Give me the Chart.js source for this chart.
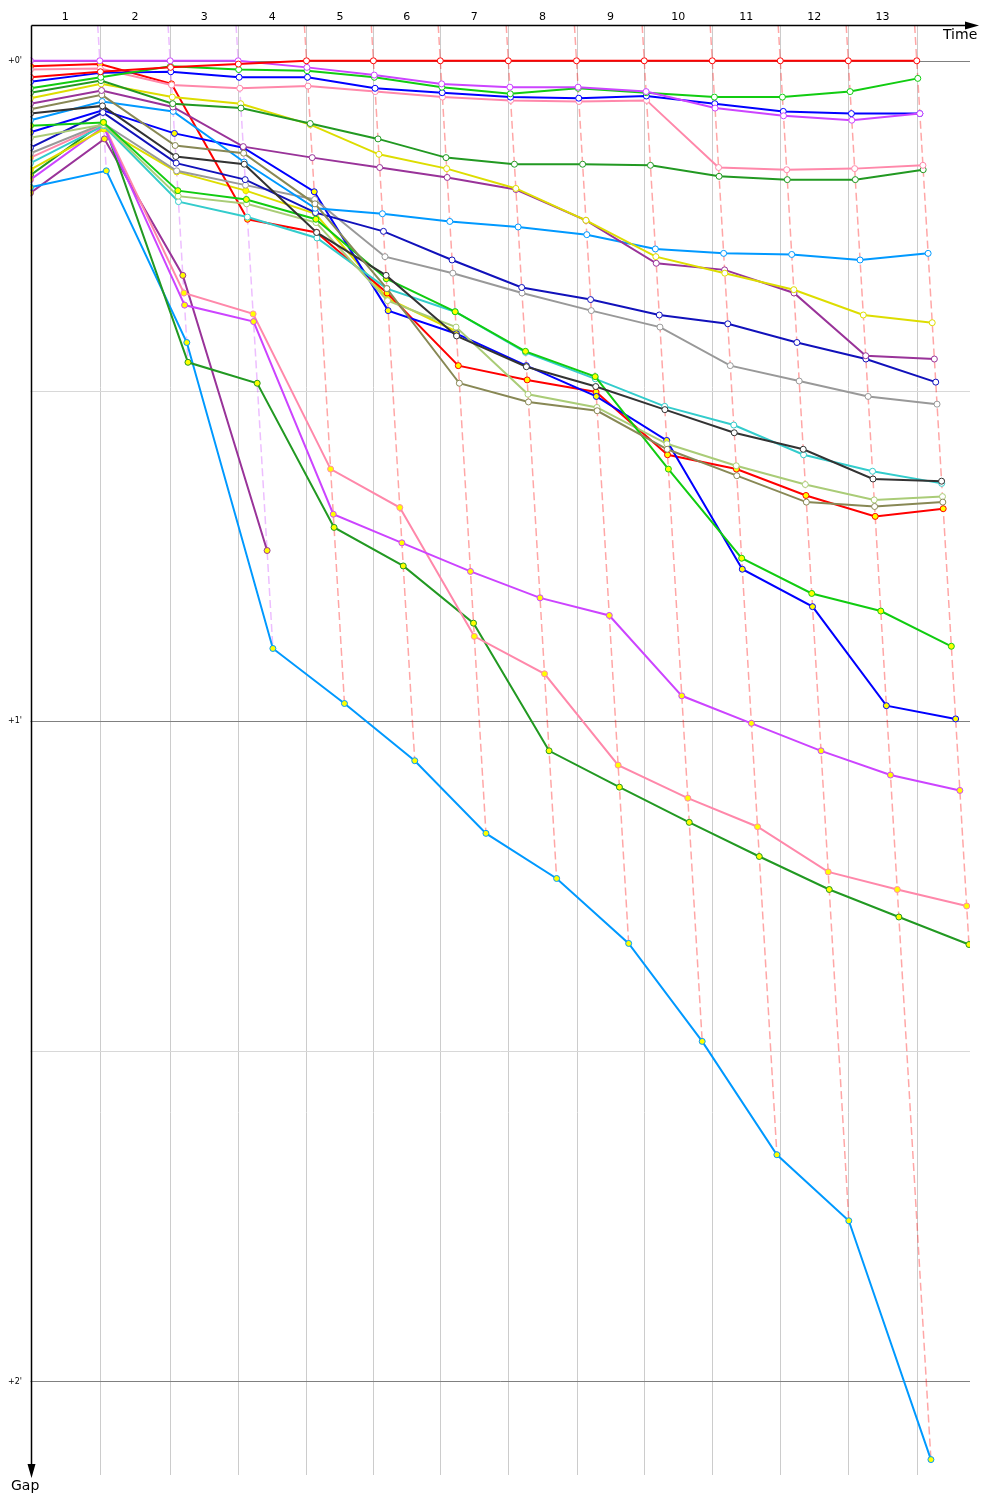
<!DOCTYPE html>
<html>
<head>
<meta charset="utf-8">
<script src="https://cdn.jsdelivr.net/npm/chart.js@4.4.1/dist/chart.umd.min.js"></script>
<style>
  html, body { margin: 0; padding: 0; background: #fff; }
  canvas { display: block; }
</style>
</head>
<body>
<canvas id="gapChart" width="1000" height="1500"></canvas>
<script>
// leader lap times (s)
const lapTimes = [106.6, 108.2, 104.6, 105.1, 102.9, 102.9, 104.6, 104.9, 104.2, 104.6, 104.6, 104.6, 105.3];
const lapLabels = ['1', '2', '3', '4', '5', '6', '7', '8', '9', '10', '11', '12', '13'];
const gapGrid = [0, 30, 60, 90, 120];
const gapTickLabels = { 0: "+0'", 60: "+1'", 120: "+2'" };

// gap to leader (s) at start and after each lap
const red1Gaps       = [1.5, 1.0, 0.6, 0.3, 0, 0, 0, 0, 0, 0, 0, 0, 0, 0];
const magentaGaps    = [0, 0, 0, 0, 0.6, 1.3, 2.1, 2.4, 2.4, 2.8, 4.3, 5.0, 5.4, 4.8];
const greenGaps      = [2.5, 1.5, 0.5, 0.8, 0.9, 1.5, 2.4, 3.0, 2.5, 2.9, 3.3, 3.3, 2.8, 1.6];
const blueGaps       = [1.9, 1.1, 1.0, 1.5, 1.5, 2.5, 2.9, 3.3, 3.4, 3.2, 3.9, 4.6, 4.8, 4.8];
const pinkGaps       = [0.8, 0.7, 2.2, 2.5, 2.3, 2.8, 3.3, 3.6, 3.7, 3.6, 9.7, 9.9, 9.8, 9.5];
const darkGreenGaps  = [2.9, 1.8, 3.9, 4.3, 5.7, 7.1, 8.8, 9.4, 9.4, 9.5, 10.5, 10.8, 10.8, 9.9];
const yellowGaps     = [3.4, 2.1, 3.3, 3.9, 5.8, 8.5, 9.8, 11.6, 14.5, 17.8, 19.3, 20.8, 23.1, 23.8];
const purpleGaps     = [3.9, 2.7, 4.2, 7.8, 8.8, 9.7, 10.6, 11.7, 14.5, 18.4, 19.0, 21.1, 26.8, 27.1];
const oliveGaps      = [4.4, 3.1, 7.7, 8.4, 13.0, 20.7, 29.3, 31.0, 31.8, 35.3, 37.7, 40.1, 40.5, 40.1];
const blackGaps      = [4.8, 4.1, 8.7, 9.4, 15.6, 19.5, 25.0, 27.8, 29.6, 31.7, 33.8, 35.3, 38.0, 38.2];
const lightBlueGaps  = [5.4, 3.7, 4.6, 9.2, 13.4, 13.9, 14.6, 15.1, 15.8, 17.1, 17.5, 17.6, 18.1, 17.5];
const green2Gaps     = [5.9, 5.6, 11.8, 12.6, 14.4, 19.8, 22.8, 26.4, 28.7, 37.1, 45.2, 48.4, 50.0, 53.2];
const lightOliveGaps = [7.0, 5.8, 12.3, 13.0, 14.7, 21.8, 24.2, 30.3, 31.5, 34.8, 36.8, 38.5, 39.9, 39.6];
const darkBlueGaps   = [7.9, 4.7, 9.3, 10.8, 13.8, 15.5, 18.1, 20.6, 21.7, 23.1, 23.9, 25.6, 27.1, 29.2];
const grayGaps       = [8.4, 5.7, 10.0, 11.3, 12.6, 17.8, 19.3, 21.1, 22.7, 24.2, 27.7, 29.1, 30.5, 31.2];
const turquoiseGaps  = [9.3, 5.9, 12.8, 14.2, 16.1, 20.7, 22.8, 26.5, 28.9, 31.4, 33.1, 35.8, 37.3, 38.4];
const blue2Gaps      = [6.5, 4.5, 6.6, 7.9, 11.9, 22.7, 24.8, 27.7, 30.5, 34.5, 46.2, 49.6, 58.6, 59.8];
const red2Gaps       = [0.5, 0.3, 2.1, 14.4, 15.6, 21.1, 27.7, 29.0, 30.1, 35.8, 37.1, 39.5, 41.4, 40.7];
const yellow2Gaps    = [9.9, 6.2, 10.1, 11.8, 13.9, 21.6, 24.6, null, null, null, null, null, null, null];
const violet2Gaps    = [10.8, 6.0, 22.2, 23.7, 41.2, 43.8, 46.4, 48.8, 50.4, 57.7, 60.2, 62.7, 64.9, 66.3];
const pink2Gaps      = [8.8, 5.8, 21.1, 23.0, 37.1, 40.6, 52.3, 55.7, 64.0, 67.0, 69.6, 73.7, 75.3, 76.8];
const darkGreen2Gaps = [10.4, 5.6, 27.4, 29.3, 42.4, 45.9, 51.1, 62.7, 66.0, 69.2, 72.3, 75.3, 77.8, 80.3];
const lightBlue2Gaps = [11.5, 10.0, 25.6, 53.4, 58.4, 63.6, 70.2, 74.3, 80.2, 89.1, 99.4, 105.4, 127.1, null];
const purple2Gaps    = [12.0, 7.1, 19.5, 44.5, null, null, null, null, null, null, null, null, null, null];

const drivers = [
  { gaps: red1Gaps, color: '#ff0000', fill: '#ffffff' },
  { gaps: magentaGaps, color: '#cc44ff', fill: '#ffffff' },
  { gaps: greenGaps, color: '#11cc11', fill: '#ffffff' },
  { gaps: blueGaps, color: '#0000ff', fill: '#ffffff' },
  { gaps: pinkGaps, color: '#ff88aa', fill: '#ffffff' },
  { gaps: darkGreenGaps, color: '#229922', fill: '#ffffff' },
  { gaps: yellowGaps, color: '#dddd00', fill: '#ffffff' },
  { gaps: purpleGaps, color: '#993399', fill: '#ffffff' },
  { gaps: oliveGaps, color: '#888855', fill: '#ffffff' },
  { gaps: blackGaps, color: '#333333', fill: '#ffffff' },
  { gaps: lightBlueGaps, color: '#0099ff', fill: '#ffffff' },
  { gaps: green2Gaps, color: '#11cc11', fill: '#ffff00' },
  { gaps: lightOliveGaps, color: '#aacc77', fill: '#ffffff' },
  { gaps: darkBlueGaps, color: '#1111bb', fill: '#ffffff' },
  { gaps: grayGaps, color: '#999999', fill: '#ffffff' },
  { gaps: turquoiseGaps, color: '#33cccc', fill: '#ffffff' },
  { gaps: blue2Gaps, color: '#0000ff', fill: '#ffff00' },
  { gaps: red2Gaps, color: '#ff0000', fill: '#ffff00' },
  { gaps: yellow2Gaps, color: '#dddd00', fill: '#ffff00' },
  { gaps: violet2Gaps, color: '#cc44ff', fill: '#ffff00' },
  { gaps: pink2Gaps, color: '#ff88aa', fill: '#ffff00' },
  { gaps: darkGreen2Gaps, color: '#229922', fill: '#ffff00' },
  { gaps: lightBlue2Gaps, color: '#0099ff', fill: '#ffff00' },
  { gaps: purple2Gaps, color: '#993399', fill: '#ffff00' }
];

const X_MAX = 1445;
const GAP_MIN = -3.25;
const GAP_MAX = 128.5;

// cumulative leader time at each lap end
const lapEnds = [0];
lapTimes.forEach(t => lapEnds.push(lapEnds[lapEnds.length - 1] + t));

function hexAlpha(hex, a) {
  const n = parseInt(hex.slice(1), 16);
  return `rgba(${n >> 16}, ${(n >> 8) & 255}, ${n & 255}, ${a})`;
}

const datasets = drivers.map(d => ({
  data: d.gaps.map((g, lap) => g === null ? null : { x: lap === 0 ? 0 : lapEnds[lap] + g, y: g })
    .filter(p => p !== null),
  borderColor: d.color,
  backgroundColor: d.fill,
  pointBackgroundColor: d.fill,
  pointBorderColor: d.color,
  pointRadius: 3,
  pointBorderWidth: 1,
  borderWidth: 2,
  showLine: true,
  tension: 0
}));

// dashed lap lines, coloured after the lap leader
for (let lap = 1; lap < lapEnds.length; lap++) {
  let leader = drivers[0], maxGap = 0, minGap = Infinity;
  drivers.forEach(d => {
    const g = d.gaps[lap];
    if (g === null || g === undefined) return;
    if (g < minGap) { minGap = g; leader = d; }
    if (g > maxGap) maxGap = g;
  });
  datasets.push({
    data: [{ x: lapEnds[lap] + GAP_MIN, y: GAP_MIN }, { x: lapEnds[lap] + maxGap, y: maxGap }],
    borderColor: hexAlpha(leader.color, 0.35),
    borderWidth: 1.5,
    borderDash: [8, 4],
    pointRadius: 0,
    showLine: true
  });
}

const racePlugin = {
  id: 'raceAxes',
  beforeDatasetsDraw(chart) {
    const { ctx, chartArea: a, scales: { x, y } } = chart;
    ctx.save();
    ctx.lineWidth = 1;
    lapEnds.slice(1).forEach(t => {
      const px = Math.round(x.getPixelForValue(t)) + 0.5;
      ctx.strokeStyle = '#cccccc';
      ctx.beginPath();
      ctx.moveTo(px, a.top);
      ctx.lineTo(px, a.bottom);
      ctx.stroke();
    });
    gapGrid.forEach(v => {
      const py = Math.round(y.getPixelForValue(v)) + 0.5;
      ctx.strokeStyle = gapTickLabels[v] ? '#808080' : '#d8d8d8';
      ctx.beginPath();
      ctx.moveTo(a.left, py);
      ctx.lineTo(a.right, py);
      ctx.stroke();
    });
    ctx.restore();
  },
  afterDatasetsDraw(chart) {
    const { ctx, chartArea: a, scales: { x, y } } = chart;
    ctx.save();
    ctx.strokeStyle = '#000';
    ctx.fillStyle = '#000';
    ctx.lineWidth = 1.5;
    const ax = Math.round(a.left) + 0.5;
    const ay = Math.round(a.top) + 0.5;
    // time axis
    ctx.beginPath();
    ctx.moveTo(ax, ay);
    ctx.lineTo(968, ay);
    ctx.stroke();
    ctx.beginPath();
    ctx.moveTo(979, ay);
    ctx.lineTo(965, ay - 4);
    ctx.lineTo(965, ay + 4);
    ctx.closePath();
    ctx.fill();
    // gap axis
    ctx.beginPath();
    ctx.moveTo(ax, ay);
    ctx.lineTo(ax, 1466);
    ctx.stroke();
    ctx.beginPath();
    ctx.moveTo(ax, 1478);
    ctx.lineTo(ax - 4, 1464);
    ctx.lineTo(ax + 4, 1464);
    ctx.closePath();
    ctx.fill();

    ctx.font = '11px "DejaVu Sans", Verdana, sans-serif';
    ctx.textAlign = 'center';
    ctx.textBaseline = 'middle';
    lapLabels.forEach((lbl, i) => {
      const cx = (x.getPixelForValue(lapEnds[i]) + x.getPixelForValue(lapEnds[i + 1])) / 2;
      ctx.fillText(lbl, cx, 17);
    });
    ctx.font = '8px "DejaVu Sans", Verdana, sans-serif';
    ctx.textAlign = 'right';
    Object.keys(gapTickLabels).forEach(v => {
      ctx.fillText(gapTickLabels[v], 22, y.getPixelForValue(Number(v)));
    });
    ctx.font = '14px "DejaVu Sans", Verdana, sans-serif';
    ctx.textAlign = 'left';
    ctx.fillText('Time', 943, 35);
    ctx.fillText('Gap', 11, 1486);
    ctx.restore();
  }
};

new Chart(document.getElementById('gapChart'), {
  type: 'scatter',
  data: { datasets },
  options: {
    responsive: false,
    animation: false,
    devicePixelRatio: 1,
    layout: { padding: { left: 30.5, top: 25, right: 30, bottom: 25 } },
    plugins: { legend: { display: false }, tooltip: { enabled: false } },
    scales: {
      x: { type: 'linear', display: false, min: 0, max: X_MAX },
      y: { type: 'linear', display: false, reverse: true, min: GAP_MIN, max: GAP_MAX }
    }
  },
  plugins: [racePlugin]
});
</script>
</body>
</html>
